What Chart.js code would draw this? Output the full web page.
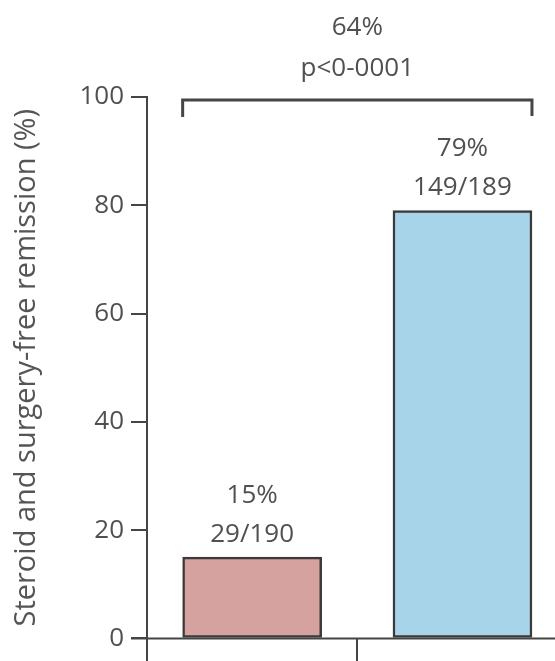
<!DOCTYPE html>
<html>
<head>
<meta charset="utf-8">
<script src="https://cdn.jsdelivr.net/npm/chart.js@4.4.1/dist/chart.umd.min.js"></script>
<style>
  html, body { margin: 0; padding: 0; background: #fff; }
  #wrap { width: 555px; height: 661px; }
</style>
</head>
<body>
<div id="wrap"><canvas id="c" width="555" height="661"></canvas></div>
<script>
// Groups and their remission results
const groups = ['Control', 'Treatment'];
const groupPos = [1, 2];
const groupBoundary = 1.5;
const remissionPct = [15, 79];
const remissionCounts = ['29/190', '149/189'];
const barColors = ['#d6a29f', '#a7d4e8'];
const yTicks = [0, 20, 40, 60, 80, 100];
const diffLabel = '64%';
const pLabel = 'p<0-0001';

const ink = '#454545';
const FONT = '"Open Sans", "DejaVu Sans", sans-serif';

// Axis lines, boundary tick, value labels and the comparison bracket
const overlay = {
  id: 'overlay',
  afterDraw(chart) {
    const { ctx, scales: { x, y }, chartArea } = chart;
    const bars = chart.getDatasetMeta(0).data;
    const y0 = y.getPixelForValue(0);
    const yTop = y.getPixelForValue(100);
    ctx.save();
    ctx.strokeStyle = ink;
    ctx.lineWidth = 2;
    ctx.lineCap = 'butt';
    // vertical axis, running past zero to the bottom edge
    ctx.beginPath();
    ctx.moveTo(chartArea.left, yTop - 1);
    ctx.lineTo(chartArea.left, chart.height);
    ctx.stroke();
    // horizontal axis at zero
    ctx.beginPath();
    ctx.moveTo(chartArea.left - 16, y0);
    ctx.lineTo(chart.width, y0);
    ctx.stroke();
    // tick between the two groups
    const bx = Math.round(x.getPixelForValue(groupBoundary));
    ctx.beginPath();
    ctx.moveTo(bx, y0);
    ctx.lineTo(bx, chart.height);
    ctx.stroke();

    // labels above each bar
    ctx.fillStyle = '#505050';
    ctx.font = '26px ' + FONT;
    ctx.textAlign = 'center';
    ctx.textBaseline = 'middle';
    bars.forEach((b, i) => {
      ctx.fillText(remissionCounts[i], b.x, b.y - 23);
      ctx.fillText(remissionPct[i] + '%', b.x, b.y - 62);
    });

    // bracket spanning both bars
    const l = bars[0].x - bars[0].width / 2;
    const r = bars[1].x + bars[1].width / 2;
    const by = yTop + 3;
    ctx.lineWidth = 3;
    ctx.beginPath();
    ctx.moveTo(l, by + 17);
    ctx.lineTo(l, by);
    ctx.lineTo(r, by);
    ctx.lineTo(r, by + 16);
    ctx.stroke();
    const mid = (l + r) / 2;
    ctx.fillText(pLabel, mid, by - 31);
    ctx.fillText(diffLabel, mid, by - 72);
    ctx.restore();
  }
};

new Chart(document.getElementById('c'), {
  type: 'bar',
  data: {
    datasets: [{
      data: groupPos.map((p, i) => ({ x: p, y: remissionPct[i] })),
      backgroundColor: barColors,
      borderColor: '#3a3a3a',
      borderWidth: 2.5,
      borderSkipped: false,
      barThickness: 139
    }]
  },
  options: {
    responsive: false,
    animation: false,
    devicePixelRatio: 1,
    layout: { padding: { top: 97, right: 0, bottom: 0, left: 0 } },
    plugins: { legend: { display: false }, tooltip: { enabled: false } },
    scales: {
      x: {
        type: 'linear',
        offset: false,
        min: 0.5,
        max: 2.44,
        ticks: { display: false },
        grid: { display: false, offset: false },
        border: { display: false },
        afterFit(scale) { scale.height = 17; }
      },
      y: {
        min: 0,
        max: 100,
        afterBuildTicks(scale) { scale.ticks = yTicks.map(v => ({ value: v })); },
        ticks: { color: '#505050', font: { family: FONT, size: 26 }, padding: 7 },
        grid: { drawOnChartArea: false, drawTicks: true, tickLength: 16, color: ink, lineWidth: 2 },
        border: { display: false },
        title: {
          display: true,
          text: 'Steroid and surgery-free remission (%)',
          color: '#555555',
          font: { family: FONT, size: 29 },
          padding: { top: 9, bottom: 0 }
        },
        afterFit(scale) { scale.width = 147; }
      }
    }
  },
  plugins: [overlay]
});
</script>
</body>
</html>
